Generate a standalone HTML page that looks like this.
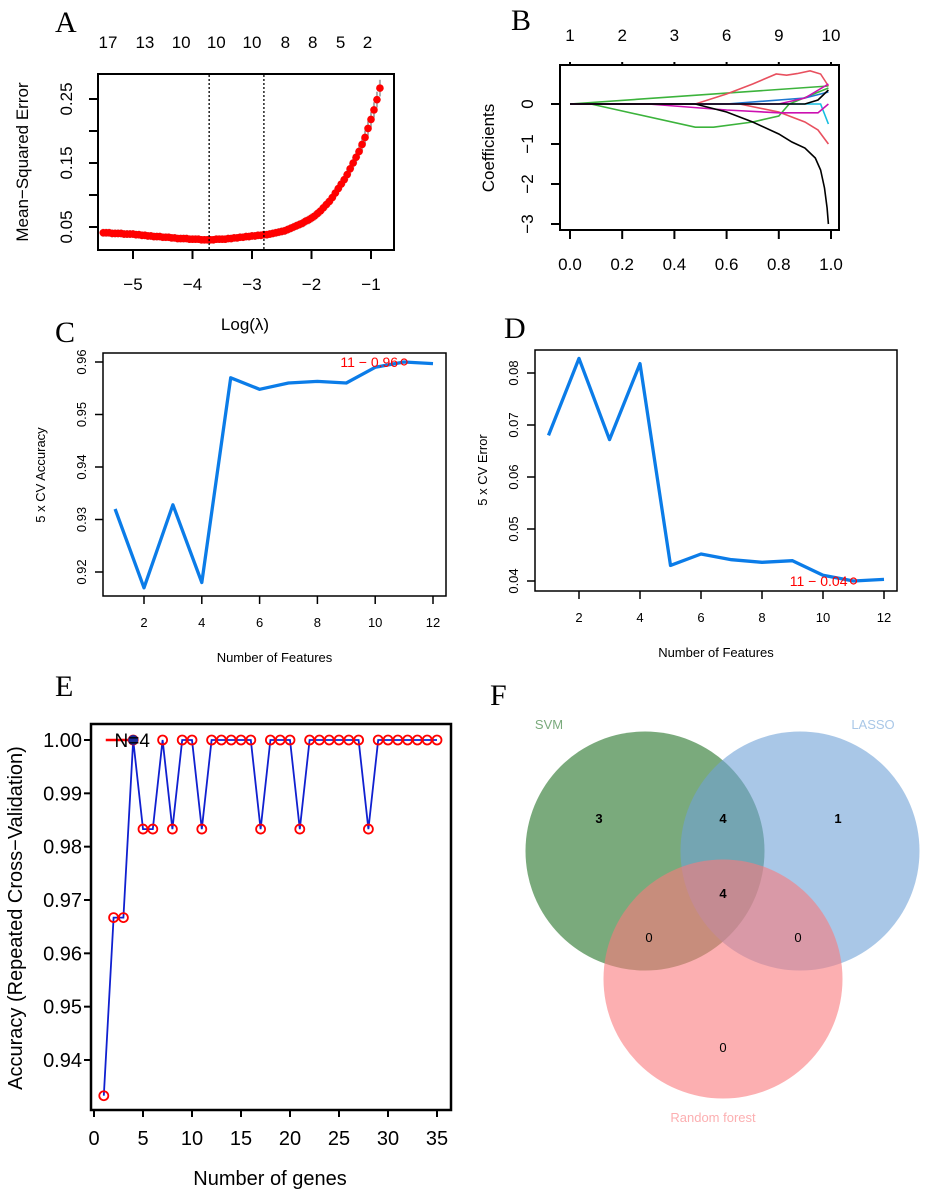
<!DOCTYPE html>
<html><head><meta charset="utf-8">
<style>
html,body{margin:0;padding:0;background:#fff;}
svg{display:block;font-family:"Liberation Sans",sans-serif;}
.pl{font-family:"Liberation Serif",serif;}
</style></head>
<body>
<svg id="fig" width="950" height="1193" viewBox="0 0 950 1193" xmlns="http://www.w3.org/2000/svg"></svg>
<script>
// ---------- DATA ----------
// Panel A
const aLogLambda = [-5.5,-5.45,-5.4,-5.35,-5.3,-5.25,-5.2,-5.15,-5.1,-5.05,-5.0,-4.95,-4.9,-4.85,-4.8,-4.75,-4.7,-4.65,-4.6,-4.55,-4.5,-4.45,-4.4,-4.35,-4.3,-4.25,-4.2,-4.15,-4.1,-4.05,-4.0,-3.95,-3.9,-3.85,-3.8,-3.75,-3.7,-3.65,-3.6,-3.55,-3.5,-3.45,-3.4,-3.35,-3.3,-3.25,-3.2,-3.15,-3.1,-3.05,-3.0,-2.95,-2.9,-2.85,-2.8,-2.75,-2.7,-2.65,-2.6,-2.55,-2.5,-2.45,-2.4,-2.35,-2.3,-2.25,-2.2,-2.15,-2.1,-2.05,-2.0,-1.95,-1.9,-1.85,-1.8,-1.75,-1.7,-1.65,-1.6,-1.55,-1.5,-1.45,-1.4,-1.35,-1.3,-1.25,-1.2,-1.15,-1.1,-1.05,-1.0,-0.95,-0.9,-0.85];
const aMSE = [0.041,0.041,0.041,0.040,0.040,0.040,0.040,0.039,0.039,0.039,0.039,0.038,0.038,0.037,0.037,0.036,0.036,0.035,0.035,0.035,0.034,0.034,0.034,0.033,0.033,0.032,0.032,0.032,0.032,0.031,0.031,0.031,0.031,0.030,0.030,0.030,0.030,0.030,0.031,0.031,0.031,0.031,0.032,0.032,0.033,0.033,0.034,0.034,0.035,0.035,0.036,0.036,0.037,0.037,0.038,0.038,0.039,0.040,0.041,0.042,0.043,0.044,0.046,0.048,0.050,0.052,0.054,0.056,0.059,0.061,0.064,0.067,0.071,0.075,0.080,0.085,0.090,0.096,0.103,0.110,0.117,0.124,0.132,0.141,0.150,0.159,0.168,0.179,0.190,0.204,0.218,0.233,0.249,0.267];
const aTopLabels = ["17","13","10","10","10","8","8","5","2"];
const aTopPos = [-5.42,-4.8,-4.19,-3.6,-3.0,-2.44,-1.98,-1.51,-1.06];
const aXTicks = [-5,-4,-3,-2,-1];
const aYTicks = [0.05,0.10,0.15,0.20,0.25];
const aYLabels = ["0.05","","0.15","","0.25"];
const aVLines = [-3.72,-2.8];
// Panel B
const bXTicks = [0,0.2,0.4,0.6,0.8,1.0];
const bXLabels = ["0.0","0.2","0.4","0.6","0.8","1.0"];
const bTopLabels = ["1","2","3","6","9","10"];
const bYTicks = [0,-1,-2,-3];
const bPathBlack1X = [0,0.48,0.6,0.7,0.8,0.85,0.9,0.94,0.96,0.975,0.985,0.99];
const bPathBlack1Y = [0,0,-0.2,-0.45,-0.75,-0.95,-1.1,-1.35,-1.65,-2.1,-2.6,-3.0];
const bPathBlack2X = [0,0.9,0.95,0.99];
const bPathBlack2Y = [0,0,0.1,0.35];
const bPathRed1X = [0,0.48,0.6,0.7,0.79,0.83,0.87,0.92,0.96,0.99];
const bPathRed1Y = [0,0,0.25,0.5,0.75,0.72,0.76,0.83,0.75,0.45];
const bPathRed2X = [0,0.65,0.8,0.9,0.95,0.99];
const bPathRed2Y = [0,0,-0.2,-0.45,-0.65,-1.0];
const bPathGreen1X = [0,0.99];
const bPathGreen1Y = [0,0.45];
const bPathGreen2X = [0,0.08,0.48,0.55,0.7,0.8,0.84,0.99];
const bPathGreen2Y = [0,0,-0.58,-0.58,-0.45,-0.3,0,0.4];
const bPathMag1X = [0,0.3,0.6,0.8,0.95,0.99];
const bPathMag1Y = [0,0,-0.15,-0.22,-0.22,0];
const bPathMag2X = [0,0.8,0.9,0.99];
const bPathMag2Y = [0,0,0.15,0.5];
const bPathCyanX = [0,0.96,0.99];
const bPathCyanY = [0,0,-0.5];
const bPathBlueX = [0,0.6,0.9,0.99];
const bPathBlueY = [0,0,0.15,0.3];
// Panel C
const cFeatures = [1,2,3,4,5,6,7,8,9,10,11,12];
const cAccuracy = [0.932,0.917,0.9328,0.918,0.957,0.9548,0.956,0.9563,0.956,0.959,0.960,0.9597];
const cXTicks = [2,4,6,8,10,12];
const cYTicks = [0.92,0.93,0.94,0.95,0.96];
// Panel D
const dFeatures = [1,2,3,4,5,6,7,8,9,10,11,12];
const dError = [0.068,0.0828,0.0672,0.0818,0.043,0.0452,0.0441,0.0436,0.0439,0.0411,0.0400,0.0403];
const dXTicks = [2,4,6,8,10,12];
const dYTicks = [0.04,0.05,0.06,0.07,0.08];
// Panel E
const eGenes = [1,2,3,4,5,6,7,8,9,10,11,12,13,14,15,16,17,18,19,20,21,22,23,24,25,26,27,28,29,30,31,32,33,34,35];
const eAcc = [0.9333,0.9667,0.9667,1,0.9833,0.9833,1,0.9833,1,1,0.9833,1,1,1,1,1,0.9833,1,1,1,0.9833,1,1,1,1,1,1,0.9833,1,1,1,1,1,1,1];
const eXTicks = [0,5,10,15,20,25,30,35];
const eYTicks = [0.94,0.95,0.96,0.97,0.98,0.99,1.00];
// Panel F
const vennSets = ["SVM","LASSO","Random forest"];
const vennCounts = ["3","4","1","4","0","0","0"];

// ---------- HELPERS ----------
const NS="http://www.w3.org/2000/svg";
const svg=document.getElementById('fig');
function mk(tag,attrs,parent){const e=document.createElementNS(NS,tag);for(const k in attrs)e.setAttribute(k,attrs[k]);(parent||svg).appendChild(e);return e;}
function txt(s,attrs,parent){const e=mk('text',attrs,parent);e.textContent=s;return e;}
function lin(d0,d1,r0,r1){return v=>r0+(v-d0)*(r1-r0)/(d1-d0);}
function pathD(xs,ys,sx,sy){return xs.map((x,i)=>(i?'L':'M')+sx(x).toFixed(1)+' '+sy(ys[i]).toFixed(1)).join(' ');}

// ---------- PANEL A ----------
(function(){
const g=mk('g',{});


const sx=lin(-5,-1,133,371), sy=lin(0.05,0.25,227,99);
const lab=txt('A',{x:55,y:32,'font-size':30,class:'pl'},g);


aTopLabels.forEach((s,i)=>{const t=txt(s,{x:sx(aTopPos[i]),y:48,'font-size':17,'text-anchor':'middle'},g);

});
const box=mk('rect',{x:98,y:74,width:296,height:176,fill:'none',stroke:'#000','stroke-width':2},g);


aXTicks.forEach(v=>{mk('line',{x1:sx(v),x2:sx(v),y1:250,y2:259,stroke:'#000','stroke-width':2},g);
const t=txt('\u2212'+Math.abs(v),{x:sx(v),y:290,'font-size':17,'text-anchor':'middle'},g);

});
aYTicks.forEach((v,i)=>{mk('line',{x1:89,x2:98,y1:sy(v),y2:sy(v),stroke:'#000','stroke-width':2},g);
if(aYLabels[i]){const t=txt(aYLabels[i],{x:0,y:0,'font-size':17,'text-anchor':'middle',transform:`translate(72,${sy(v)}) rotate(-90)`},g);

}});
const yt=txt('Mean\u2212Squared Error',{x:0,y:0,'font-size':17,'text-anchor':'middle',transform:'translate(28,162) rotate(-90)'},g);


const xt=txt('Log(\u03bb)',{x:245,y:330,'font-size':17,'text-anchor':'middle'},g);


aLogLambda.forEach((x,i)=>{const v=aMSE[i];const se=0.005+v*0.03;
const b=mk('line',{x1:sx(x),x2:sx(x),y1:sy(v-se),y2:sy(v+se),stroke:'#aaa','stroke-width':2},g);

});
aLogLambda.forEach((x,i)=>{const c=mk('circle',{cx:sx(x),cy:sy(aMSE[i]),r:3.8,fill:'#f00'},g);

});
aVLines.forEach(v=>{const l=mk('line',{x1:sx(v),x2:sx(v),y1:75,y2:249,stroke:'#000','stroke-width':1.3,'stroke-dasharray':'2,2'},g);

});
})();

// ---------- PANEL B ----------
(function(){
const g=mk('g',{});


const sx=lin(0,1,570,831), sy=lin(0,-3,104,224);
const lab=txt('B',{x:511,y:30,'font-size':30,class:'pl'},g);


const box=mk('rect',{x:560,y:65,width:279,height:165,fill:'none',stroke:'#000','stroke-width':2},g);


bXTicks.forEach((v,i)=>{mk('line',{x1:sx(v),x2:sx(v),y1:230,y2:239,stroke:'#000','stroke-width':2},g);
mk('line',{x1:sx(v),x2:sx(v),y1:62,y2:65,stroke:'#000','stroke-width':2},g);
const t=txt(bXLabels[i],{x:sx(v),y:270,'font-size':17,'text-anchor':'middle'},g);


const t2=txt(bTopLabels[i],{x:sx(v),y:41,'font-size':17,'text-anchor':'middle'},g);

});
bYTicks.forEach(v=>{mk('line',{x1:551,x2:560,y1:sy(v),y2:sy(v),stroke:'#000','stroke-width':2},g);
const t=txt(v<0?'\u2212'+Math.abs(v):'0',{x:0,y:0,'font-size':17,'text-anchor':'middle',transform:`translate(533,${sy(v)}) rotate(-90)`},g);

});
const yt=txt('Coefficients',{x:0,y:0,'font-size':17,'text-anchor':'middle',transform:'translate(494,148) rotate(-90)'},g);


const series=[[bPathGreen2X,bPathGreen2Y,'#3cb33c'],[bPathGreen1X,bPathGreen1Y,'#3cb33c'],[bPathRed1X,bPathRed1Y,'#e8505f'],[bPathRed2X,bPathRed2Y,'#e8505f'],[bPathCyanX,bPathCyanY,'#16bde0'],[bPathBlueX,bPathBlueY,'#1f78d0'],[bPathMag1X,bPathMag1Y,'#cc10b0'],[bPathMag2X,bPathMag2Y,'#cc10b0'],[bPathBlack2X,bPathBlack2Y,'#000'],[bPathBlack1X,bPathBlack1Y,'#000']];
series.forEach(s=>{const p=mk('path',{d:pathD(s[0],s[1],sx,sy),fill:'none',stroke:s[2],'stroke-width':1.6},g);

});
})();

// ---------- PANEL C / D ----------
function featPanel(o){
const g=mk('g',{});


const sx=lin(2,12,o.x2,o.x12), sy=lin(o.yv0,o.yv1,o.yp0,o.yp1);
const lab=txt(o.label,{x:o.lx,y:o.ly,'font-size':30,class:'pl'},g);


const box=mk('rect',{x:o.bx,y:o.by,width:o.bw,height:o.bh,fill:'none',stroke:'#000','stroke-width':1.5},g);


o.xt.forEach(v=>{mk('line',{x1:sx(v),x2:sx(v),y1:o.by+o.bh,y2:o.by+o.bh+8,stroke:'#000','stroke-width':1.5},g);
const t=txt(String(v),{x:sx(v),y:o.by+o.bh+31,'font-size':13,'text-anchor':'middle'},g);

});
o.yt.forEach(v=>{mk('line',{x1:o.bx-8,x2:o.bx,y1:sy(v),y2:sy(v),stroke:'#000','stroke-width':1.5},g);
const t=txt(v.toFixed(2),{x:0,y:0,'font-size':13,'text-anchor':'middle',transform:`translate(${o.bx-17},${sy(v)}) rotate(-90)`},g);

});
const xt=txt('Number of Features',{x:o.bx+o.bw/2,y:o.by+o.bh+66,'font-size':13,'text-anchor':'middle'},g);


const yt=txt(o.ytitle,{x:0,y:0,'font-size':13,'text-anchor':'middle',transform:`translate(${o.ytx},${o.yty}) rotate(-90)`},g);


const p=mk('path',{d:pathD(o.xs,o.ys,sx,sy),fill:'none',stroke:'#0b7ce8','stroke-width':3.3,'stroke-linejoin':'round'},g);


const bi=10;
const c=mk('circle',{cx:sx(o.xs[bi]),cy:sy(o.ys[bi]),r:3,fill:'none',stroke:'#f00','stroke-width':1.2},g);


const a=txt(o.ann,{x:sx(o.xs[bi])-6,y:sy(o.ys[bi])+5,'font-size':14,fill:'#f00','text-anchor':'end'},g);


}
featPanel({name:'panel-c-cv-accuracy',label:'C',lx:55,ly:342,x2:144,x12:433,yv0:0.92,yv1:0.96,yp0:572,yp1:362,bx:103,by:353,bw:343,bh:243,xt:cXTicks,yt:cYTicks,ytitle:'5 x CV Accuracy',ytx:45,yty:475,xs:cFeatures,ys:cAccuracy,ann:'11 \u2212 0.96'});
featPanel({name:'panel-d-cv-error',label:'D',lx:504,ly:338,x2:579,x12:884,yv0:0.04,yv1:0.08,yp0:581,yp1:373,bx:535,by:350,bw:362,bh:241,xt:dXTicks,yt:dYTicks,ytitle:'5 x CV Error',ytx:487,yty:470,xs:dFeatures,ys:dError,ann:'11 \u2212 0.04'});

// ---------- PANEL E ----------
(function(){
const g=mk('g',{});


const sx=lin(0,35,94,437), sy=lin(0.94,1.0,1060,740);
const lab=txt('E',{x:55,y:696,'font-size':30,class:'pl'},g);


const box=mk('rect',{x:91,y:724,width:360,height:386,fill:'none',stroke:'#000','stroke-width':2.5},g);


eXTicks.forEach(v=>{mk('line',{x1:sx(v),x2:sx(v),y1:1110,y2:1117,stroke:'#000','stroke-width':2},g);
const t=txt(String(v),{x:sx(v),y:1145,'font-size':20,'text-anchor':'middle'},g);

});
eYTicks.forEach(v=>{mk('line',{x1:84,x2:91,y1:sy(v),y2:sy(v),stroke:'#000','stroke-width':2},g);
const t=txt(v.toFixed(2),{x:82,y:sy(v)+7,'font-size':20,'text-anchor':'end'},g);

});
const xt=txt('Number of genes',{x:270,y:1185,'font-size':20,'text-anchor':'middle'},g);


const yt=txt('Accuracy (Repeated Cross\u2212Validation)',{x:0,y:0,'font-size':20,'text-anchor':'middle',transform:'translate(22,918) rotate(-90)'},g);


const rl=mk('line',{x1:sx(1.2),x2:sx(4),y1:sy(1),y2:sy(1),stroke:'#f00','stroke-width':2.5},g);


const p=mk('path',{d:pathD(eGenes,eAcc,sx,sy),fill:'none',stroke:'#1020d0','stroke-width':1.8},g);


eGenes.forEach((x,i)=>{const c=mk('circle',{cx:sx(x),cy:sy(eAcc[i]),r:4.5,fill:'none',stroke:'#f00','stroke-width':1.8},g);

});
const best=3;
const bc=mk('circle',{cx:sx(eGenes[best]),cy:sy(eAcc[best]),r:5,fill:'#1a2c9a'},g);


const nt=txt('N=4',{x:sx(eGenes[best])-1,y:sy(eAcc[best])+7,'font-size':19,'text-anchor':'middle',fill:'#000'},g);


})();

// ---------- PANEL F ----------
(function(){
const g=mk('g',{});


const lab=txt('F',{x:490,y:705,'font-size':30,class:'pl'},g);


const c1=mk('circle',{cx:645,cy:851,r:119.5,fill:'#217125','fill-opacity':0.6},g);


const c2=mk('circle',{cx:800,cy:851,r:119.5,fill:'#70a2d7','fill-opacity':0.6},g);


const c3=mk('circle',{cx:723,cy:979,r:119.5,fill:'#fa7a7d','fill-opacity':0.6},g);


const s1=txt(vennSets[0],{x:549,y:729,'font-size':13,fill:'#7aaa7c','text-anchor':'middle'},g);


const s2=txt(vennSets[1],{x:873,y:729,'font-size':13,fill:'#a9c7e7','text-anchor':'middle'},g);


const s3=txt(vennSets[2],{x:713,y:1122,'font-size':13,fill:'#fcafb1','text-anchor':'middle'},g);


const pos=[[599,823,'bold'],[723,823,'bold'],[838,823,'bold'],[723,898,'bold'],[649,942,'normal'],[798,942,'normal'],[723,1052,'normal']];
vennCounts.forEach((s,i)=>{const t=txt(s,{x:pos[i][0],y:pos[i][1],'font-size':13,'font-weight':pos[i][2],'text-anchor':'middle'},g);

});
})();
</script>
</body></html>
